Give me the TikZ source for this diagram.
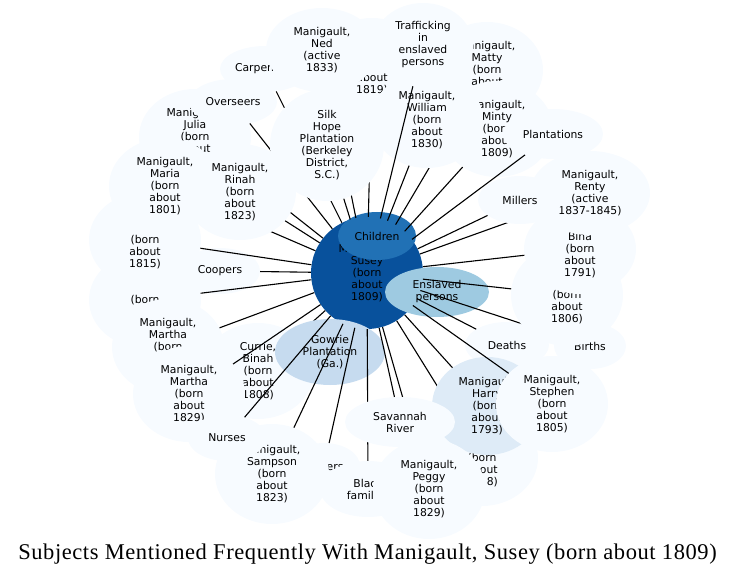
\documentclass[tikz,border=0pt]{standalone}
\usepackage{fontspec}
\setmainfont{DejaVu Sans}
\newfontfamily\titlefont[LetterSpace=2.6]{Liberation Serif}
\usetikzlibrary{shapes.geometric}
\definecolor{blueA}{HTML}{F7FBFF}
\definecolor{blueB}{HTML}{DEEBF7}
\definecolor{blueC}{HTML}{C6DBEF}
\definecolor{blueD}{HTML}{9ECAE1}
\definecolor{blueF}{HTML}{2171B5}
\definecolor{blueG}{HTML}{08519C}
\begin{document}
\begin{tikzpicture}[x=1pt,y=-1pt,
	blob/.style={ellipse,inner sep=0pt,align=center,fill=blueA,font=\fontsize{10.8}{12}\selectfont},
	person/.style={blob,minimum width=112,minimum height=96},
	word/.style={blob,minimum width=#1,minimum height=46},
	link/.style={line width=1.1pt}]
	\useasboundingbox (0,0) rectangle (741,577);

	\node[blob,circle,fill=blueG,minimum size=112] at (367,273) (susey) {Manigault,\\Susey\\(born\\about\\1809)};
	\node[person] at (258,371) (currie) {Currie,\\Binah\\(born\\about\\1808)};
	\draw[link] (susey) -- (currie);
	\node[blob,fill=blueC,minimum width=110,minimum height=66] at (330,352) (gowrie) {Gowrie\\Plantation\\(Ga.)};
	\node[blob,fill=blueF,minimum width=78,minimum height=48] at (377,236) (children) {Children};
	\node[blob,fill=blueD,minimum width=104,minimum height=50] at (437,292) (enslaved) {Enslaved\\persons};

	\node[word=80] at (220,271) (coopers) {Coopers};
	\draw[link] (susey) -- (coopers);
	\node[word=84] at (507,345) (deaths) {Deaths};
	\draw[link] (susey) -- (deaths);
	\node[word=72] at (590,346) (births) {Births};
	\draw[link] (susey) -- (births);
	\node[word=90] at (265,69) (carpenters) {Carpenters};
	\draw[link] (susey) -- (carpenters);
	\node[person] at (372,66) (jan) {\phantom{Manigault,}\\\phantom{Name}\\\phantom{(born}\\about\\1819)};
	\draw[link] (susey) -- (jan);
	\node[person,minimum height=84] at (322,50) (ned) {Manigault,\\Ned\\(active\\1833)};
	\draw[link] (susey) -- (ned);
	\node[person] at (487,70) (matty) {Manigault,\\Matty\\(born\\about\\\phantom{1800)}};
	\draw[link] (susey) -- (matty);
	\node[person] at (497,129) (minty) {Manigault,\\Minty\\(born\\about\\1809)};
	\draw[link] (susey) -- (minty);
	\node[person] at (427,120) (william) {Manigault,\\William\\(born\\about\\1830)};
	\draw[link] (susey) -- (william);
	\node[person,minimum width=100,minimum height=84] at (423,45) (trafficking) {Trafficking\\in\\enslaved\\persons};
	\draw[link] (susey) -- (trafficking);
	\node[blob,minimum width=100,minimum height=50] at (553,134) (plantations) {Plantations};
	\draw[link] (susey) -- (plantations);
	\node[person] at (195,137) (julia) {Manigault,\\Julia\\(born\\about\\\phantom{1800)}};
	\draw[link] (susey) -- (julia);
	\node[word=88] at (233,102) (overseers) {Overseers};
	\draw[link] (susey) -- (overseers);
	\node[person] at (145,300) (ney) {\phantom{Manigault,}\\\phantom{Name}\\(born\\\phantom{about}\\\phantom{1800)}};
	\draw[link] (susey) -- (ney);
	\node[person] at (145,240) (nov) {\phantom{Manigault,}\\\phantom{Name}\\(born\\about\\1815)};
	\draw[link] (susey) -- (nov);
	\node[person] at (165,186) (maria) {Manigault,\\Maria\\(born\\about\\1801)};
	\draw[link] (susey) -- (maria);
	\node[person,minimum width=114,minimum height=112] at (327,145) (silkhope) {Silk\\Hope\\Plantation\\(Berkeley\\District,\\S.C.)};
	\draw[link] (susey) -- (silkhope);
	\node[person] at (240,192) (rinah) {Manigault,\\Rinah\\(born\\about\\1823)};
	\draw[link] (susey) -- (rinah);
	\node[person,minimum height=102] at (567,295) (six) {\phantom{Manigault,}\\\phantom{Name}\\(born\\about\\1806)};
	\draw[link] (susey) -- (six);
	\node[person,minimum height=90] at (580,249) (bina) {\phantom{Manigault,}\\Bina\\(born\\about\\1791)};
	\draw[link] (susey) -- (bina);
	\node[person,minimum width=120,minimum height=84] at (590,193) (renty) {Manigault,\\Renty\\(active\\1837-1845)};
	\draw[link] (susey) -- (renty);
	\node[blob,minimum width=84,minimum height=48] at (520,200) (millers) {Millers};
	\draw[link] (susey) -- (millers);
	\node[person] at (168,347) (martha) {Manigault,\\Martha\\(born\\\phantom{about}\\\phantom{1800)}};
	\draw[link] (susey) -- (martha);
	\node[person] at (189,394) (marthb) {Manigault,\\Martha\\(born\\about\\1829)};
	\draw[link] (susey) -- (marthb);
	\node[word=72] at (324,466) (drivers) {\phantom{Driv}ers};
	\draw[link] (susey) -- (drivers);
	\node[person,minimum width=114,minimum height=100] at (272,474) (sampson) {Manigault,\\Sampson\\(born\\about\\1823)};
	\draw[link] (susey) -- (sampson);
	\node[word=78] at (227,438) (nurses) {Nurses};
	\draw[link] (susey) -- (nurses);
	\node[blob,minimum width=96,minimum height=56] at (368,489) (blackfam) {Black\\families};
	\draw[link] (susey) -- (blackfam);
	\node[person] at (482,458) (eight) {\phantom{Manigault,}\\\phantom{Name}\\(born\\about\\\phantom{182}8)};
	\draw[link] (susey) -- (eight);
	\node[person,fill=blueB,minimum width=110,minimum height=98] at (487,406) (harry) {Manigault,\\Harry\\(born\\about\\1793)};
	\draw[link] (susey) -- (harry);
	\node[person,minimum height=100] at (429,489) (peggy) {Manigault,\\Peggy\\(born\\about\\1829)};
	\draw[link] (susey) -- (peggy);
	\node[blob,minimum width=110,minimum height=50] at (400,422) (savannah) {Savannah\\River};
	\draw[link] (susey) -- (savannah);
	\node[person] at (552,404) (stephen) {Manigault,\\Stephen\\(born\\about\\1805)};
	\draw[link] (susey) -- (stephen);

	\node[font=\titlefont\fontsize{22.5}{25}\selectfont] at (367.5,554) (title) {Subjects Mentioned Frequently With Manigault, Susey (born about 1809)};
\end{tikzpicture}
\end{document}
